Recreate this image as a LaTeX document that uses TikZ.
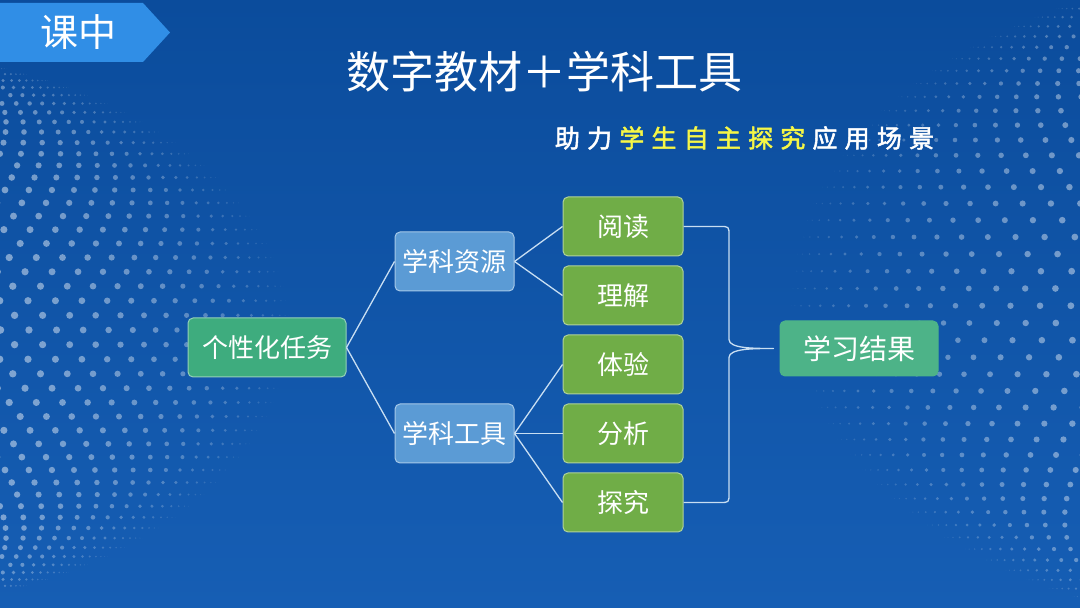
\documentclass[tikz,border=0pt]{standalone}
\usepackage{fontspec}
\setmainfont{Noto Sans CJK SC}
\newfontfamily\kaifont[FakeBold=2]{Noto Sans CJK SC}
\usepackage{xcolor}
\usetikzlibrary{positioning,calc}
\definecolor{bgtop}{RGB}{11,76,156}
\definecolor{bgbot}{RGB}{22,94,180}
\definecolor{tabblue}{RGB}{48,142,230}
\definecolor{taskgreen}{RGB}{62,172,126}
\definecolor{srcblue}{RGB}{91,155,213}
\definecolor{leafgreen}{RGB}{112,173,71}
\definecolor{linkblue}{RGB}{200,222,242}
\definecolor{hiyellow}{RGB}{246,246,70}
\newcommand{\gap}{\hspace{7.2pt}}

\begin{document}
\begin{tikzpicture}[x=1pt, y=1pt,
	box/.style={rounded corners=5pt, line width=1pt, text=white, font=\fontsize{26}{30}\selectfont, minimum height=59pt, inner sep=0pt},
	task/.style={box, fill=taskgreen, draw=taskgreen!55!white, minimum width=158pt},
	branch/.style={box, fill=srcblue, draw=srcblue!55!white, minimum width=119pt},
	leaf/.style={box, fill=leafgreen, draw=leafgreen!55!white, minimum width=120pt},
	outcome/.style={box, fill=taskgreen!92!white, draw=taskgreen!92!white, minimum width=158pt, minimum height=55pt, font=\fontsize{28}{32}\selectfont},
	conn/.style={linkblue, line width=1.3pt},
	bracket/.style={linkblue, line width=1.3pt, line join=round}]

				\useasboundingbox (0,0) rectangle (1080,608);
				\shade[top color=bgtop, bottom color=bgbot] (0,0) rectangle (1080,608);

				\begin{scope}
					\clip (0,0) rectangle (1080,608);
					\foreach \lon in {0,2,...,88}{
						\foreach \lat in {-66,-60,...,66}{
							\pgfmathsetmacro\la{\lat+3*mod(\lon/2,2)}
							\pgfmathsetmacro\px{-150+440*sin(\lon)*cos(\la)}
							\pgfmathsetmacro\py{278+280*sin(\la)}
							\pgfmathsetmacro\rr{4*cos(\lon)*sqrt(cos(\la))}
							\pgfmathsetmacro\op{0.5*cos(\lon)}
							\fill[white, opacity=\op] (\px,\py) circle (\rr);
						}
					}
					\foreach \lon in {0,2,...,88}{
						\foreach \lat in {-70,-64,...,70}{
							\pgfmathsetmacro\la{\lat+3*mod(\lon/2,2)}
							\pgfmathsetmacro\px{1290-500*sin(\lon)*cos(\la)}
							\pgfmathsetmacro\py{308+330*sin(\la)}
							\pgfmathsetmacro\rr{3.8*cos(\lon)*sqrt(cos(\la))}
							\pgfmathsetmacro\op{0.48*cos(\lon)}
							\fill[white, opacity=\op] (\px,\py) circle (\rr);
						}
					}
				\end{scope}

				\fill[tabblue] (0,605) -- (143,605) -- (170,575.5) -- (143,546) -- (0,546) -- cycle;
				\node[text=white, font=\fontsize{38}{40}\selectfont] (tab) at (78,575.5) {课中};

				\node[text=white, font=\fontsize{44}{50}\selectfont] (title) at (544.5,536) {数字教材＋学科工具};
				\node[text=white, font=\kaifont\fontsize{25}{28}\selectfont] (subtitle) at (744.5,470)
					{助\gap 力\gap \textcolor{hiyellow}{学\gap 生\gap 自\gap 主\gap 探\gap 究}\gap 应\gap 用\gap 场\gap 景};

				\node[task] (task) at (267,260.5) {个性化任务};
				\node[branch] (res) at (454.5,346.5) {学科资源};
				\node[branch] (tool) at (454.5,174.5) {学科工具};

				\node[leaf] (read) at (623,381.5) {阅读};
				\node[leaf, below=9pt of read] (grasp) {理解};
				\node[leaf, below=9pt of grasp] (feel) {体验};
				\node[leaf, below=9pt of feel] (analyse) {分析};
				\node[leaf, below=9pt of analyse] (probe) {探究};

				\node[outcome] (result) at (859,259.5) {学习结果};

				\draw[conn] (task.east) -- (res.west);
				\draw[conn] (task.east) -- (tool.west);
				\draw[conn] (res.east) -- (read.west);
				\draw[conn] (res.east) -- (grasp.west);
				\draw[conn] (tool.east) -- (feel.west);
				\draw[conn] (tool.east) -- (analyse.west);
				\draw[conn] (tool.east) -- (probe.west);

				\coordinate (bx) at (729,0);
				\coordinate (tip) at ([xshift=-6pt]result.west);
				\draw[bracket] (read.east) -- ([xshift=-9pt]bx |- read.east)
					.. controls (bx |- read.east) .. ([yshift=-9pt]bx |- read.east)
					-- ([yshift=9pt]bx |- tip)
					.. controls (bx |- tip) and ([xshift=-20pt]tip) .. (tip)
					.. controls ([xshift=-20pt]tip) and (bx |- tip) .. ([yshift=-9pt]bx |- tip)
					-- ([yshift=9pt]bx |- probe.east)
					.. controls (bx |- probe.east) .. ([xshift=-9pt]bx |- probe.east)
					-- (probe.east);
			\end{tikzpicture}
\end{document}
